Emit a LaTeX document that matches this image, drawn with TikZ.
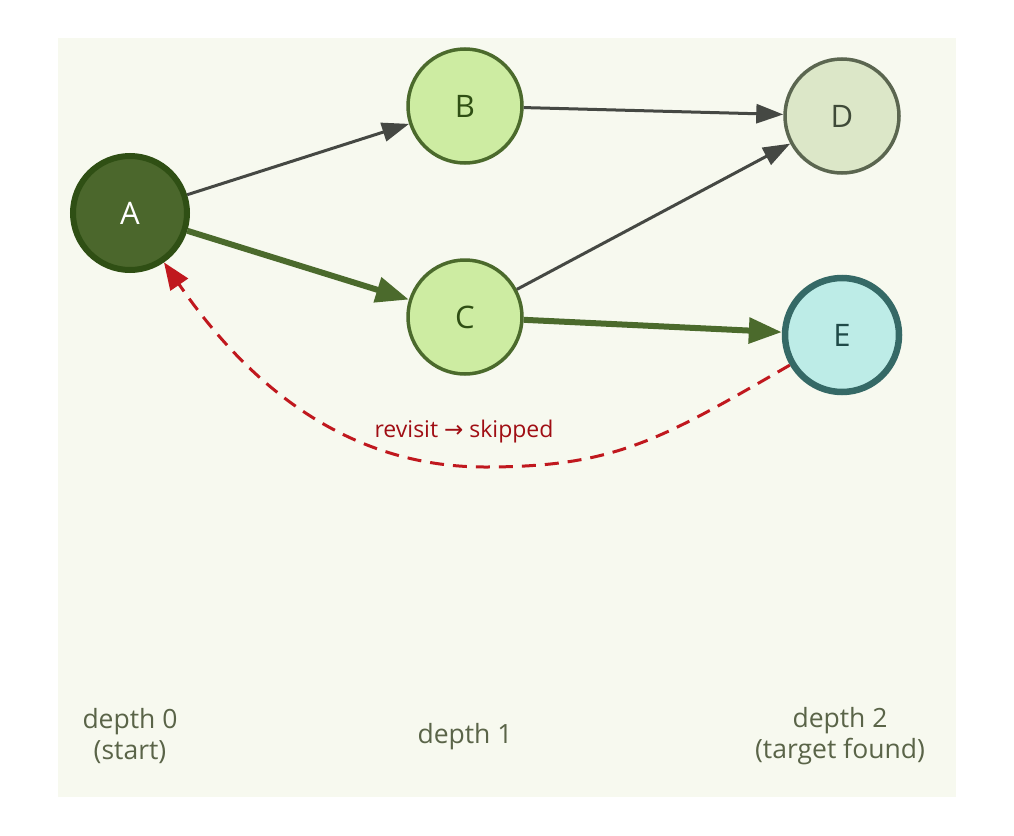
\documentclass[tikz,border=0pt]{standalone}
\usepackage{fontspec}
\setmainfont{Open Sans}
\newfontfamily\arrowfont{DejaVu Sans}
\usetikzlibrary{arrows.meta}
\definecolor{panel}{HTML}{F7F9EF}
\definecolor{afill}{HTML}{4B672C}
\definecolor{aedge}{HTML}{2F4F14}
\definecolor{bcfill}{HTML}{CDECA2}
\definecolor{bcedge}{HTML}{4B6A2C}
\definecolor{bctext}{HTML}{2F4F14}
\definecolor{dfill}{HTML}{DCE7C8}
\definecolor{dedge}{HTML}{5B6650}
\definecolor{dtext}{HTML}{3F4A38}
\definecolor{efill}{HTML}{BDECE7}
\definecolor{eedge}{HTML}{356966}
\definecolor{etext}{HTML}{1F4A48}
\definecolor{greyedge}{HTML}{454843}
\definecolor{greenedge}{HTML}{4B6A2C}
\definecolor{rededge}{HTML}{C0181E}
\definecolor{redtext}{HTML}{A00E14}
\definecolor{depthtext}{HTML}{5A6448}
\tikzset{
  vnode/.style={circle, minimum size=114pt, inner sep=0pt, font=\fontsize{31}{36}\selectfont},
  startnode/.style={vnode, fill=afill, draw=aedge, line width=6pt, text=white},
  midnode/.style={vnode, fill=bcfill, draw=bcedge, line width=3.5pt, text=bctext},
  dnode/.style={vnode, fill=dfill, draw=dedge, line width=3.5pt, text=dtext},
  enode/.style={vnode, fill=efill, draw=eedge, line width=6.5pt, text=etext},
  greyarrow/.style={draw=greyedge, line width=3pt, -{Triangle[length=27pt, width=19pt]}},
  greenarrow/.style={draw=greenedge, fill=greenedge, line width=6pt, -{Triangle[length=33pt, width=25pt]}},
  redarrow/.style={draw=rededge, line width=3pt, dash pattern=on 14pt off 9pt, -{Triangle[length=27pt, width=21pt, fill=rededge]}},
  depthlabel/.style={text=depthtext, align=center, font=\fontsize{26.5}{31}\selectfont},
  revlabel/.style={text=redtext, font=\fontsize{23}{27}\selectfont}
}
\begin{document}
\begin{tikzpicture}[x=1pt, y=-1pt]
  \useasboundingbox (0,0) rectangle (1014,835);
  \fill[panel] (58,38) rectangle (956,797);
  \node[startnode] (A) at (130,213) {A};
  \node[midnode] (B) at (465,106) {B};
  \node[midnode] (C) at (465,317) {C};
  \node[dnode] (D) at (842,116) {D};
  \node[enode] (E) at (842,335) {E};
  \coordinate (M) at (485,467);
  \draw[greyarrow] (A) -- (B);
  \draw[greenarrow] (A) -- (C);
  \draw[greyarrow] (B) -- (D);
  \draw[greyarrow] (C) -- (D);
  \draw[greenarrow] (C) -- (E);
  \draw[redarrow] (E) .. controls (660,440) and (615,467) .. (M) .. controls (335,467) and (238,370) .. (A);
  \node[revlabel] (rl) at (464,432) {revisit {\arrowfont →} skipped};
  \node[depthlabel] (d0) at (130,736) {depth 0\\(start)};
  \node[depthlabel] (d1) at (465,737) {depth 1};
  \node[depthlabel] (d2) at (840,736) {depth 2\\(target found)};
\end{tikzpicture}
\end{document}
